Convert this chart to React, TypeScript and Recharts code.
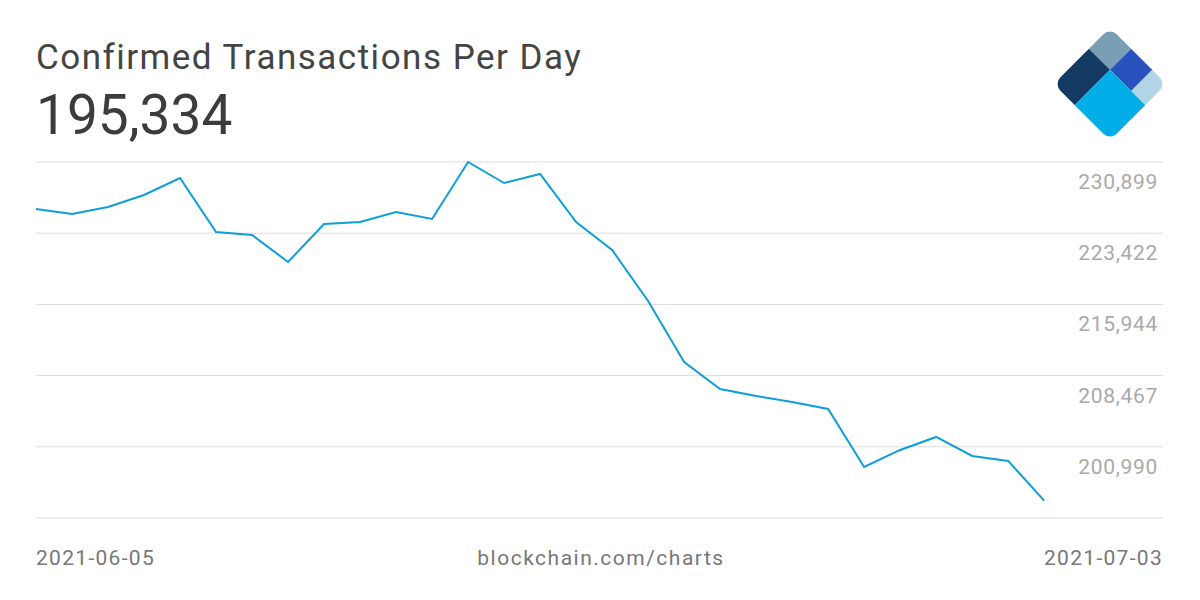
import { LineChart, Line, XAxis, YAxis, CartesianGrid } from 'recharts'

const DATES = [
  '2021-06-05', '2021-06-06', '2021-06-07', '2021-06-08', '2021-06-09', '2021-06-10', '2021-06-11',
  '2021-06-12', '2021-06-13', '2021-06-14', '2021-06-15', '2021-06-16', '2021-06-17', '2021-06-18',
  '2021-06-19', '2021-06-20', '2021-06-21', '2021-06-22', '2021-06-23', '2021-06-24', '2021-06-25',
  '2021-06-26', '2021-06-27', '2021-06-28', '2021-06-29', '2021-06-30', '2021-07-01', '2021-07-02',
  '2021-07-03',
]

const TX_PER_DAY = [
  225964, 225439, 226174, 227434, 229219, 223549, 223234,
  220399, 224389, 224599, 225649, 224914, 230899, 228694,
  229639, 224599, 221659, 216304, 209899, 207064, 206329,
  205699, 204964, 198874, 200659, 202024, 200029, 199504,
  195334,
]

const Y_TICKS = [193513, 200990, 208467, 215944, 223422, 230899]

const data = DATES.map((d, i) => ({ i, date: d, value: TX_PER_DAY[i] }))

const FONT = 'Roboto, "Open Sans", sans-serif'

// labels sit under their gridline, right aligned with the plot's end
const renderTick = (props: any) => {
  const { y, payload } = props
  if (payload.value === Y_TICKS[0]) return <g />
  return (
    <text
      x={1158}
      y={y + 27}
      textAnchor="end"
      fill="#a9a9a9"
      fontSize={21}
      letterSpacing={0.7}
      fontFamily={FONT}
    >
      {Number(payload.value).toLocaleString('en-US')}
    </text>
  )
}

function Logo() {
  const s = 80
  const h = s * 0.375
  const q = s * 0.75
  return (
    <g transform={`translate(1110, ${84 - s * Math.SQRT1_2}) rotate(45)`}>
      <defs>
        <clipPath id="logoClip">
          <rect x={0} y={0} width={s} height={s} rx={10} ry={10} />
        </clipPath>
      </defs>
      <g clipPath="url(#logoClip)">
        <rect x={0} y={0} width={h} height={h} fill="#7a9fb5" />
        <rect x={0} y={h} width={h} height={s - h} fill="#123a63" />
        <rect x={h} y={0} width={q - h} height={h} fill="#2a52be" />
        <rect x={q} y={0} width={s - q} height={h} fill="#b1d5e7" />
        <rect x={h} y={h} width={s - h} height={s - h} fill="#00ade6" />
      </g>
    </g>
  )
}

export default function App() {
  return (
    <div style={{ position: 'relative', width: 1200, height: 600, background: '#fff' }}>
      <style>{`body{margin:0}`}</style>
      <LineChart
        width={1200}
        height={600}
        data={data}
        margin={{ top: 162, right: 36, bottom: 82, left: 36 }}
      >
        <CartesianGrid vertical={false} stroke="#dcdcdc" strokeWidth={1} />
        <XAxis dataKey="i" type="number" domain={[0, 31.3]} hide />
        <YAxis
          orientation="right"
          width={1}
          domain={[Y_TICKS[0], Y_TICKS[Y_TICKS.length - 1]]}
          ticks={Y_TICKS}
          axisLine={false}
          tickLine={false}
          tick={renderTick}
          interval={0}
        />
        <Line
          type="linear"
          dataKey="value"
          stroke="#0e9ed8"
          strokeWidth={2}
          dot={false}
          isAnimationActive={false}
        />
      </LineChart>
      <svg
        width={1200}
        height={600}
        style={{ position: 'absolute', left: 0, top: 0, pointerEvents: 'none' }}
      >
        <text x={36} y={69} fontSize={35} letterSpacing={1.5} fill="#444" fontFamily={FONT}>
          Confirmed Transactions Per Day
        </text>
        <text x={36} y={134} fontSize={55} fill="#3c3c3c" fontFamily={FONT}>
          {TX_PER_DAY[TX_PER_DAY.length - 1].toLocaleString('en-US')}
        </text>
        <text x={36} y={565} fontSize={21} letterSpacing={1.3} fill="#777" fontFamily={FONT}>
          {DATES[0]}
        </text>
        <text x={601} y={565} fontSize={21} letterSpacing={1.5} fill="#777" fontFamily={FONT} textAnchor="middle">
          blockchain.com/charts
        </text>
        <text x={1163} y={565} fontSize={21} letterSpacing={1.3} fill="#777" fontFamily={FONT} textAnchor="end">
          {DATES[DATES.length - 1]}
        </text>
        <Logo />
      </svg>
    </div>
  )
}
